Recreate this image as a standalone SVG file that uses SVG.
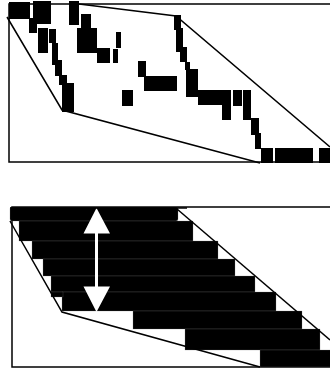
<svg xmlns="http://www.w3.org/2000/svg" width="330" height="369" viewBox="0 0 330 369">
<style>
.frame{fill:none;stroke:#000;stroke-width:1.5}
.hull{fill:none;stroke:#000;stroke-width:1.5}
.blk rect{fill:#000}
.bar rect{fill:#000;stroke:#777;stroke-width:0.25}
.arrow{fill:#fff}
</style>
<rect width="330" height="369" fill="#fff"/>
<g id="top-panel">
  <rect class="frame" x="9" y="4" width="340" height="158"/>
</g>
<g id="top-blocks" class="blk">
  <rect x="9" y="2" width="21" height="17"/>
  <rect x="33" y="1" width="18" height="23"/>
  <rect x="29" y="18" width="8" height="15"/>
  <rect x="38" y="28" width="10" height="25"/>
  <rect x="49" y="29" width="7" height="14"/>
  <rect x="52" y="43" width="6" height="22"/>
  <rect x="55" y="60" width="7" height="16"/>
  <rect x="59" y="75" width="8" height="10"/>
  <rect x="62" y="83" width="12" height="29"/>
  <rect x="69" y="1" width="10" height="24"/>
  <rect x="81" y="14" width="10" height="14"/>
  <rect x="77" y="28" width="20" height="25"/>
  <rect x="97" y="48" width="13" height="15"/>
  <rect x="113" y="49" width="5" height="14"/>
  <rect x="116" y="32" width="5" height="16"/>
  <rect x="138" y="61" width="8" height="16"/>
  <rect x="144" y="76" width="33" height="15"/>
  <rect x="122" y="90" width="11" height="16"/>
  <rect x="174" y="15" width="7" height="15"/>
  <rect x="176" y="28" width="7" height="24"/>
  <rect x="180" y="47" width="7" height="15"/>
  <rect x="185" y="62" width="5" height="8"/>
  <rect x="186" y="69" width="12" height="28"/>
  <rect x="198" y="90" width="33" height="15"/>
  <rect x="222" y="105" width="9" height="15"/>
  <rect x="233" y="90" width="9" height="16"/>
  <rect x="243" y="90" width="8" height="30"/>
  <rect x="251" y="118" width="8" height="17"/>
  <rect x="255" y="133" width="6" height="16"/>
  <rect x="261" y="148" width="12" height="15"/>
  <rect x="275" y="148" width="38" height="15"/>
  <rect x="319" y="148" width="11" height="15"/>
</g>
<g id="bottom-panel">
  <rect class="frame" x="12" y="207" width="340" height="160"/>
</g>
<g id="bottom-bars" class="bar">
  <rect x="10" y="207" width="168" height="14" rx="2"/>
  <rect x="19" y="221" width="174" height="20"/>
  <rect x="32" y="241" width="186" height="18"/>
  <rect x="43" y="259" width="192" height="17"/>
  <rect x="51" y="276" width="204" height="16"/>
  <rect x="62" y="292" width="214" height="19"/>
  <rect x="51" y="292" width="12" height="5" stroke="none"/>
  <rect x="133" y="311" width="169" height="18"/>
  <rect x="185" y="329" width="135" height="21"/>
  <rect x="260" y="350" width="75" height="17"/>
</g>
<g id="double-arrow">
  <polygon class="arrow" points="96.5,208 110,233.5 98,233.5 98,286.5 110,286.5 96.5,312 83.5,286.5 95,286.5 95,233.5 83.5,233.5"/>
</g>
<g id="connectors">
  <polyline class="hull" points="7,17 62,110 260,163"/>
  <polyline class="hull" points="79,4 176,16 330,147"/>
  <polyline class="hull" points="10,221 62,312 260,367"/>
  <polyline class="hull" points="10,208 187,208"/>
  <polyline class="hull" points="177,209 330,340"/>
</g>
</svg>
